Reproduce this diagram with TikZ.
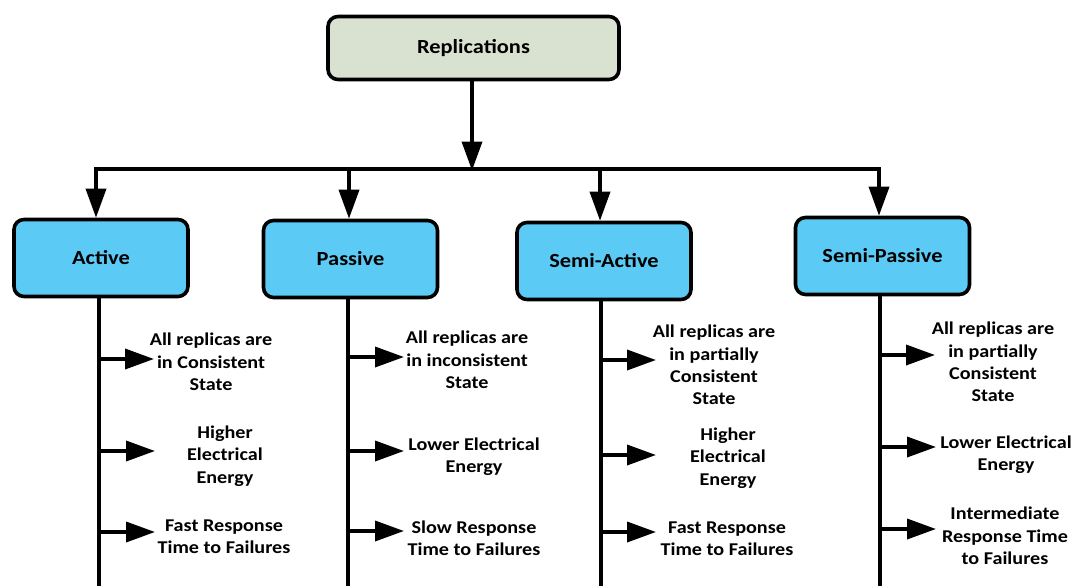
\documentclass[tikz,border=0pt]{standalone}
\usepackage{fontspec}
\newfontfamily\diagfont{Carlito}[FakeStretch=1.12]
\usetikzlibrary{arrows.meta}
\definecolor{rootfill}{HTML}{D9E1D1}
\definecolor{catfill}{HTML}{5BCAF5}
\begin{document}
\begin{tikzpicture}[x=1pt,y=-1pt,
  box/.style={draw=black, line width=3.6pt, rounded corners=10pt, inner sep=0pt,
    font=\diagfont\bfseries\fontsize{20}{24}\selectfont},
  rootbox/.style={box, fill=rootfill, minimum width=291pt, minimum height=63pt},
  catbox/.style={box, fill=catfill, minimum width=174pt, minimum height=77pt},
  note/.style={align=center, inner sep=0pt,
    font=\diagfont\bfseries\fontsize{18}{22.3}\selectfont},
  link/.style={line width=3.6pt, line join=miter, -{Triangle[length=29pt,width=20pt]}},
  stem/.style={line width=3.6pt},
]
\useasboundingbox (0,0) rectangle (1078,586);

% boxes
\node[rootbox] (root) at (473.5,48) {Replications};
\node[catbox] (active)  at (101,258)   {Active};
\node[catbox] (passive) at (350.5,259) {Passive};
\node[catbox] (sactive) at (604,261)   {Semi-Active};
\node[catbox] (spassive) at (882.5,256) {Semi-Passive};

% distribution bar
\coordinate (hub) at (472,169);
\coordinate (dA) at (96,169);
\coordinate (dP) at (349,169);
\coordinate (dS) at (600,169);
\coordinate (dQ) at (879,169);

\draw[link] (root.south -| hub) -- ([yshift=-1.5pt]hub);
\draw[link] (hub) -- (dA) -- (dA |- active.north);
\draw[link] (hub) -- (dQ) -- (dQ |- spassive.north);
\draw[link] (dP) -- (dP |- passive.north);
\draw[link] (dS) -- (dS |- sactive.north);

% stems below each category
\coordinate (eA) at (99,586);
\coordinate (eP) at (348,586);
\coordinate (eS) at (601,586);
\coordinate (eQ) at (880,586);
\draw[stem] (active.south -| eA) -- (eA);
\draw[stem] (passive.south -| eP) -- (eP);
\draw[stem] (sactive.south -| eS) -- (eS);
\draw[stem] (spassive.south -| eQ) -- (eQ);

% Active
\coordinate (a1) at (99,359);  \coordinate (a1t) at (154,359);
\coordinate (a2) at (99,451);  \coordinate (a2t) at (155,451);
\coordinate (a3) at (99,532);  \coordinate (a3t) at (155,532);
\draw[link] (a1) -- (a1t);
\draw[link] (a2) -- (a2t);
\draw[link] (a3) -- (a3t);
\node[note] (na1) at (211,362) {All replicas are\\in Consistent\\State};
\node[note] (na2) at (225,456) {Higher\\Electrical\\Energy};
\node[note] (na3) at (224,537) {Fast Response\\Time to Failures};

% Passive
\coordinate (p1) at (348,357); \coordinate (p1t) at (404,357);
\coordinate (p2) at (348,451); \coordinate (p2t) at (404,451);
\coordinate (p3) at (348,531); \coordinate (p3t) at (404,531);
\draw[link] (p1) -- (p1t);
\draw[link] (p2) -- (p2t);
\draw[link] (p3) -- (p3t);
\node[note] (np1) at (467,360) {All replicas are\\in inconsistent\\State};
\node[note] (np2) at (474,457) {Lower Electrical\\Energy};
\node[note] (np3) at (474,538) {Slow Response\\Time to Failures};

% Semi-Active
\coordinate (s1) at (601,360); \coordinate (s1t) at (656,360);
\coordinate (s2) at (601,455); \coordinate (s2t) at (656,455);
\coordinate (s3) at (601,532); \coordinate (s3t) at (656,532);
\draw[link] (s1) -- (s1t);
\draw[link] (s2) -- (s2t);
\draw[link] (s3) -- (s3t);
\node[note] (ns1) at (714,365) {All replicas are\\in partially\\Consistent\\State};
\node[note] (ns2) at (728,458) {Higher\\Electrical\\Energy};
\node[note] (ns3) at (727,539) {Fast Response\\Time to Failures};

% Semi-Passive
\coordinate (q1) at (880,355); \coordinate (q1t) at (935,355);
\coordinate (q2) at (880,447); \coordinate (q2t) at (936,447);
\coordinate (q3) at (880,529); \coordinate (q3t) at (936,529);
\draw[link] (q1) -- (q1t);
\draw[link] (q2) -- (q2t);
\draw[link] (q3) -- (q3t);
\node[note] (nq1) at (993,362) {All replicas are\\in partially\\Consistent\\State};
\node[note] (nq2) at (1006,455) {Lower Electrical\\Energy};
\node[note] (nq3) at (1005,536) {Intermediate\\Response Time\\to Failures};
\end{tikzpicture}
\end{document}
